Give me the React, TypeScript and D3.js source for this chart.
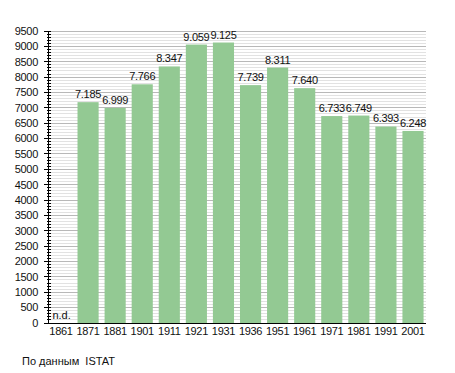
import { useEffect, useRef } from 'react'
import * as d3 from 'd3'

const years = ['1861', '1871', '1881', '1901', '1911', '1921', '1931', '1936', '1951', '1961', '1971', '1981', '1991', '2001']
const population: (number | null)[] = [null, 7185, 6999, 7766, 8347, 9059, 9125, 7739, 8311, 7640, 6733, 6749, 6393, 6248]
const yTicks = d3.range(0, 9501, 500)
const minorTicks = d3.range(0, 9501, 100)
const source = 'По данным  ISTAT'

const fmt = (v: number) => {
  const s = String(v)
  return s.length > 3 ? s.slice(0, s.length - 3) + '.' + s.slice(-3) : s
}

export default function App() {
  const svgRef = useRef<SVGSVGElement>(null)

  useEffect(() => {
    if (!svgRef.current) return
    const root = d3.select(svgRef.current)
    root.selectAll('*').remove()

    const width = 455
    const height = 373
    const margin = { top: 31, right: 29, bottom: 50, left: 48 }
    const innerWidth = width - margin.left - margin.right
    const innerHeight = height - margin.top - margin.bottom

    root.attr('width', width).attr('height', height)
      .style('font-family', '"Liberation Sans", Arial, sans-serif')

    const svg = root.append('g').attr('transform', `translate(${margin.left}, ${margin.top})`)

    const x = d3.scaleBand().domain(years).range([0, innerWidth]).paddingInner(0.22).paddingOuter(0.09)
    const y = d3.scaleLinear().domain([0, 9500]).range([innerHeight, 0])

    // grid: minor every 100, major every 500
    svg.append('g').selectAll('line').data(minorTicks).join('line')
      .attr('x1', 0).attr('x2', innerWidth)
      .attr('y1', d => y(d)).attr('y2', d => y(d))
      .attr('stroke', d => (d % 500 === 0 ? '#b8b8b8' : '#e2e2e2'))
      .attr('stroke-width', 1)
      .attr('shape-rendering', 'crispEdges')

    // bars
    const data = years.map((yr, i) => ({ yr, v: population[i] }))
    svg.selectAll('.bar').data(data.filter(d => d.v !== null)).join('rect')
      .attr('class', 'bar')
      .attr('x', d => x(d.yr) || 0)
      .attr('y', d => y(d.v as number))
      .attr('width', x.bandwidth())
      .attr('height', d => innerHeight - y(d.v as number))
      .attr('fill', '#93c993')

    svg.selectAll('.lbl').data(data.filter(d => d.v !== null)).join('text')
      .attr('class', 'lbl')
      .attr('x', d => (x(d.yr) || 0) + x.bandwidth() / 2)
      .attr('y', d => y(d.v as number) - 4)
      .attr('text-anchor', 'middle')
      .attr('font-size', '11px')
      .attr('fill', '#111')
      .style('letter-spacing', '-0.3px')
      .text(d => fmt(d.v as number))

    svg.selectAll('.nd').data(data.filter(d => d.v === null)).join('text')
      .attr('class', 'nd')
      .attr('x', d => (x(d.yr) || 0) + 2)
      .attr('y', innerHeight - 4)
      .attr('font-size', '11px')
      .attr('fill', '#111')
      .text('n.d.')

    // y axis
    const yAxis = svg.append('g')
    yAxis.append('line').attr('x1', 0).attr('x2', 0).attr('y1', 0).attr('y2', innerHeight)
      .attr('stroke', '#000').attr('shape-rendering', 'crispEdges')
    yAxis.selectAll('.minor').data(minorTicks).join('line')
      .attr('class', 'minor')
      .attr('x1', d => (d % 500 === 0 ? -4 : -1)).attr('x2', 3)
      .attr('y1', d => y(d)).attr('y2', d => y(d))
      .attr('stroke', '#000').attr('shape-rendering', 'crispEdges')
    yAxis.selectAll('text').data(yTicks).join('text')
      .attr('x', -10).attr('y', d => y(d)).attr('dy', '0.35em')
      .attr('text-anchor', 'end').attr('font-size', '11px').attr('fill', '#111')
      .style('letter-spacing', '-0.3px')
      .text(d => String(d))

    // x axis
    svg.append('line').attr('x1', 0).attr('x2', innerWidth).attr('y1', innerHeight).attr('y2', innerHeight)
      .attr('stroke', '#000').attr('shape-rendering', 'crispEdges')
    svg.append('g').selectAll('text').data(years).join('text')
      .attr('x', d => (x(d) || 0) + x.bandwidth() / 2)
      .attr('y', innerHeight + 12)
      .attr('text-anchor', 'middle').attr('font-size', '11px').attr('fill', '#111')
      .style('letter-spacing', '-0.3px')
      .text(d => d)

    root.append('text')
      .attr('x', 22).attr('y', 365)
      .attr('font-size', '11px').attr('fill', '#111')
      .style('white-space', 'pre')
      .text(source)
  }, [])

  return <svg ref={svgRef} style={{ position: 'absolute', left: 0, top: 0 }} />
}
